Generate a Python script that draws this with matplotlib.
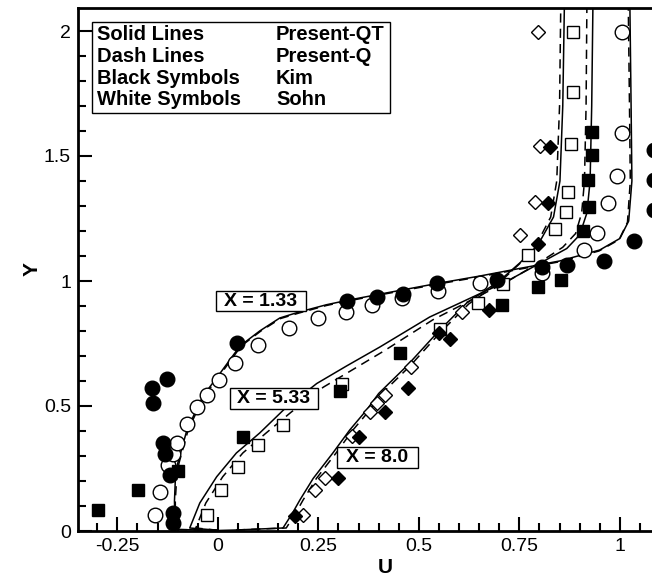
import numpy as np
import matplotlib
matplotlib.use('Agg')
import matplotlib.pyplot as plt
from matplotlib.patches import Rectangle
from matplotlib.ticker import MultipleLocator, FuncFormatter

plt.rcParams['font.family'] = ['Liberation Sans', 'DejaVu Sans']

# --- Present-QT (solid lines) ---
u_qt_133 = [0.0, -0.107, -0.108, -0.106, -0.100, -0.088, -0.077, -0.052, -0.037, 0.005, 0.055, 0.104, 0.154,
            0.200, 0.270, 0.320, 0.395, 0.545, 0.652, 0.750, 0.850, 0.950, 1.000, 1.022, 1.030, 1.028, 1.025]
y_qt_133 = [0.003, 0.006, 0.120, 0.200, 0.270, 0.340, 0.404, 0.490, 0.540, 0.630, 0.740, 0.800, 0.852,
            0.875, 0.905, 0.922, 0.945, 0.990, 1.020, 1.050, 1.080, 1.124, 1.170, 1.240, 1.400, 1.700, 2.100]

u_qt_533 = [0.0, -0.070, -0.045, -0.003, 0.046, 0.104, 0.167, 0.246, 0.320, 0.403, 0.527, 0.634, 0.720,
            0.800, 0.868, 0.900, 0.918, 0.926, 0.930, 0.933]
y_qt_533 = [0.003, 0.012, 0.112, 0.217, 0.312, 0.392, 0.490, 0.590, 0.660, 0.736, 0.856, 0.936, 1.000,
            1.070, 1.130, 1.184, 1.272, 1.400, 1.700, 2.100]

u_qt_80 = [0.0, 0.045, 0.162, 0.185, 0.204, 0.237, 0.286, 0.328, 0.370, 0.400, 0.470, 0.545, 0.619,
           0.700, 0.751, 0.796, 0.835, 0.851, 0.858, 0.862]
y_qt_80 = [0.002, 0.004, 0.012, 0.070, 0.124, 0.210, 0.312, 0.404, 0.484, 0.550, 0.660, 0.792, 0.912,
           1.000, 1.072, 1.144, 1.256, 1.400, 1.700, 2.100]

# --- Present-Q (dash lines) ---
u_q_133 = [0.0, -0.105, -0.106, -0.103, -0.097, -0.085, -0.074, -0.049, -0.034, 0.008, 0.058, 0.107, 0.156,
           0.202, 0.270, 0.320, 0.395, 0.545, 0.652, 0.750, 0.850, 0.948, 0.998, 1.019, 1.026, 1.024, 1.021]
y_q_133 = [0.003, 0.006, 0.120, 0.200, 0.270, 0.340, 0.404, 0.490, 0.540, 0.630, 0.740, 0.800, 0.850,
           0.872, 0.902, 0.919, 0.942, 0.987, 1.017, 1.047, 1.077, 1.120, 1.165, 1.235, 1.400, 1.700, 2.100]

u_q_533 = [0.0, -0.055, -0.030, 0.012, 0.062, 0.120, 0.182, 0.262, 0.335, 0.415, 0.535, 0.638, 0.720,
           0.796, 0.858, 0.890, 0.905, 0.912, 0.916, 0.918]
y_q_533 = [0.003, 0.012, 0.112, 0.217, 0.312, 0.392, 0.475, 0.575, 0.645, 0.722, 0.845, 0.930, 0.998,
           1.070, 1.135, 1.190, 1.272, 1.400, 1.700, 2.100]

u_q_80 = [0.045, 0.170, 0.193, 0.212, 0.245, 0.294, 0.336, 0.378, 0.408, 0.478, 0.552, 0.624,
          0.702, 0.750, 0.792, 0.828, 0.843, 0.850, 0.853]
y_q_80 = [0.004, 0.012, 0.070, 0.124, 0.210, 0.312, 0.404, 0.484, 0.550, 0.660, 0.792, 0.908,
          0.996, 1.068, 1.144, 1.256, 1.400, 1.700, 2.100]

# --- Kim (black symbols) ---
kim_133_u = [-0.112, -0.112, -0.119, -0.132, -0.137, -0.162, -0.164, -0.127, 0.047, 0.320, 0.395, 0.460,
             0.545, 0.694, 0.806, 0.868, 0.960, 1.035, 1.085, 1.085, 1.085]
kim_133_y = [0.032, 0.072, 0.224, 0.308, 0.352, 0.512, 0.572, 0.608, 0.752, 0.922, 0.938, 0.948,
             0.992, 1.004, 1.056, 1.064, 1.082, 1.160, 1.284, 1.404, 1.524]

kim_533_u = [-0.299, -0.199, -0.100, 0.062, 0.303, 0.453, 0.706, 0.796, 0.853, 0.908, 0.923, 0.920, 0.930, 0.930]
kim_533_y = [0.084, 0.164, 0.240, 0.376, 0.560, 0.712, 0.904, 0.976, 1.004, 1.200, 1.296, 1.404, 1.504, 1.596]

kim_80_u = [0.192, 0.299, 0.351, 0.415, 0.473, 0.550, 0.577, 0.674, 0.796, 0.821, 0.826]
kim_80_y = [0.060, 0.212, 0.376, 0.476, 0.572, 0.792, 0.768, 0.884, 1.148, 1.312, 1.536]

# --- Sohn (white symbols) ---
sohn_133_u = [-0.157, -0.144, -0.124, -0.112, -0.102, -0.077, -0.052, -0.027, 0.002, 0.042, 0.100, 0.177,
              0.250, 0.318, 0.383, 0.458, 0.547, 0.652, 0.806, 0.912, 0.944, 0.970, 0.993, 1.005, 1.005]
sohn_133_y = [0.064, 0.156, 0.264, 0.308, 0.352, 0.428, 0.496, 0.544, 0.604, 0.672, 0.744, 0.812,
              0.852, 0.878, 0.904, 0.934, 0.960, 0.992, 1.034, 1.124, 1.194, 1.312, 1.420, 1.592, 1.996]

sohn_533_u = [-0.027, 0.008, 0.050, 0.100, 0.162, 0.308, 0.552, 0.647, 0.709, 0.771, 0.838, 0.866,
              0.871, 0.878, 0.883, 0.883]
sohn_533_y = [0.064, 0.164, 0.258, 0.344, 0.424, 0.590, 0.810, 0.912, 0.988, 1.104, 1.208, 1.276,
              1.356, 1.548, 1.756, 1.996]

sohn_80_u = [0.212, 0.241, 0.266, 0.333, 0.378, 0.395, 0.415, 0.480, 0.607, 0.751, 0.789, 0.801, 0.796]
sohn_80_y = [0.064, 0.164, 0.212, 0.380, 0.476, 0.512, 0.544, 0.656, 0.878, 1.184, 1.316, 1.540, 1.996]

legend_left = ['Solid Lines', 'Dash Lines', 'Black Symbols', 'White Symbols']
legend_right = ['Present-QT', 'Present-Q', 'Kim', 'Sohn']
station_labels = ['X = 1.33', 'X = 5.33', 'X = 8.0']

# --- figure ---
fig = plt.figure(figsize=(6.52, 5.8), dpi=100)
ax = fig.add_axes([78 / 652, 49 / 580, 574 / 652, 523 / 580])

line_kw = dict(color='black', lw=1.1, zorder=2)
dash_kw = dict(color='black', lw=1.1, ls=(0, (6, 4)), zorder=2)
for u, y in [(u_qt_133, y_qt_133), (u_qt_533, y_qt_533), (u_qt_80, y_qt_80)]:
    ax.plot(u, y, **line_kw)
for u, y in [(u_q_133, y_q_133), (u_q_533, y_q_533), (u_q_80, y_q_80)]:
    ax.plot(u, y, **dash_kw)

white_kw = dict(ls='none', mfc='white', mec='black', mew=1.0, zorder=3)
black_kw = dict(ls='none', mfc='black', mec='black', mew=1.0, zorder=4)
ax.plot(sohn_133_u, sohn_133_y, marker='o', ms=10.5, **white_kw)
ax.plot(sohn_533_u, sohn_533_y, marker='s', ms=8, **white_kw)
ax.plot(sohn_80_u, sohn_80_y, marker='D', ms=7.5, **white_kw)
ax.plot(kim_133_u, kim_133_y, marker='o', ms=10.5, **black_kw)
ax.plot(kim_533_u, kim_533_y, marker='s', ms=8, **black_kw)
ax.plot(kim_80_u, kim_80_y, marker='D', ms=7.5, **black_kw)

ax.set_xlim(-0.348, 1.08)
ax.set_ylim(0, 2.092)

for side in ['left', 'bottom', 'top']:
    ax.spines[side].set_linewidth(2)
ax.spines['right'].set_visible(False)

ax.xaxis.set_major_locator(MultipleLocator(0.25))
ax.xaxis.set_minor_locator(MultipleLocator(0.05))
ax.yaxis.set_major_locator(MultipleLocator(0.5))
ax.yaxis.set_minor_locator(MultipleLocator(0.1))
fmt = FuncFormatter(lambda v, p: '%g' % round(v, 3))
ax.xaxis.set_major_formatter(fmt)
ax.yaxis.set_major_formatter(fmt)
ax.tick_params(which='both', direction='in', top=False, right=False, width=1.5, labelsize=14)
ax.tick_params(which='major', length=10, pad=5)
ax.tick_params(which='minor', length=5.5)

ax.set_xlabel('U', fontsize=15, fontweight='bold')
ax.xaxis.set_label_coords(0.535, -0.052)
ax.set_ylabel('Y', fontsize=15, fontweight='bold')
ax.yaxis.set_label_coords(-0.064, 0.5)

# --- legend box (axes-fraction layout) ---
ax.add_patch(Rectangle((0.0244, 0.799), 0.519, 0.174, transform=ax.transAxes,
                       fc='white', ec='black', lw=1.0, zorder=5))
rows = [0.950, 0.908, 0.866, 0.826]
for yy, a, b in zip(rows, legend_left, legend_right):
    ax.text(0.033, yy, a, transform=ax.transAxes, fontsize=14.5, fontweight='bold',
            va='center', ha='left', zorder=6)
    ax.text(0.345, yy, b, transform=ax.transAxes, fontsize=14.5, fontweight='bold',
            va='center', ha='left', zorder=6)

# --- station labels: boxes in axes fraction (x0, y0, x1, y1) ---
label_boxes = [(0.2404, 0.4207, 0.3972, 0.4589),
               (0.2648, 0.2339, 0.4180, 0.2735),
               (0.4507, 0.1200, 0.5929, 0.1613)]
for (x0, y0, x1, y1), s in zip(label_boxes, station_labels):
    ax.add_patch(Rectangle((x0, y0), x1 - x0, y1 - y0, transform=ax.transAxes,
                           fc='white', ec='black', lw=1.0, zorder=5))
    ax.text((x0 + x1) / 2, (y0 + y1) / 2 - 0.001, s, transform=ax.transAxes, fontsize=14,
            fontweight='bold', ha='center', va='center', zorder=6)

fig.savefig('out.png', dpi=100)
